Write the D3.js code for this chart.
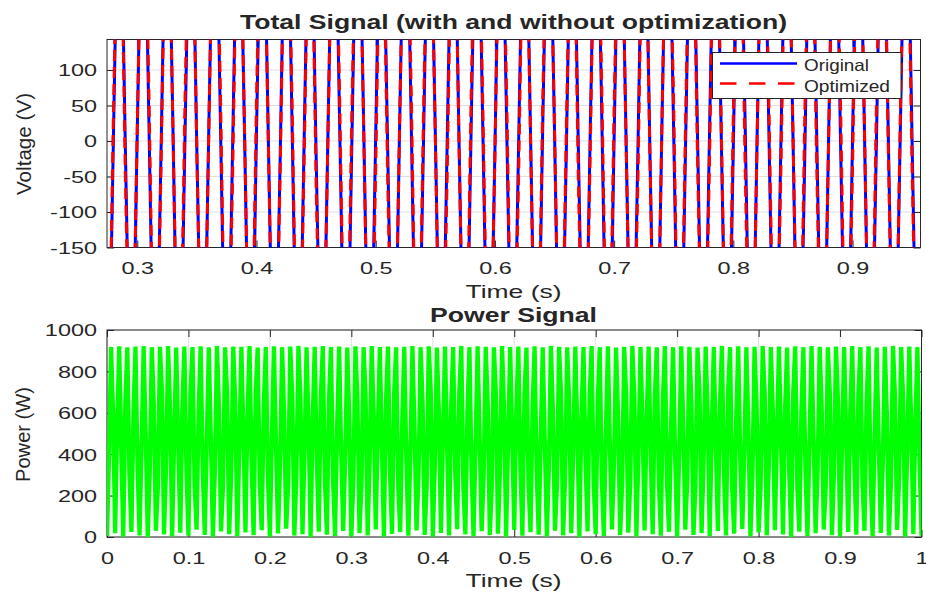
<!DOCTYPE html>
<html>
<head>
<meta charset="utf-8">
<script src="https://cdn.jsdelivr.net/npm/d3@7"></script>
<style>
	body { margin: 0; background: #ffffff; }
	svg { font-family: "Liberation Sans", Arial, sans-serif; }
</style>
</head>
<body>
<svg id="svg_main" width="926" height="592"></svg>
<script>
var sigStart = 0.275, sigStep = 0.005;
var original = [
	-468, 6, 472, -10, -455, 14, 480, 4,
	-471, -8, 462, 12, -479, 3, 470, -15,
	-460, 18, 476, 2, -466, -6, 458, 9,
	-474, 11, 469, -4, -463, -12, 481, 7,
	-470, 5, 466, -18, -458, 16, 474, 0,
	-477, -3, 471, 13, -465, 8, 460, -7,
	-472, 15, 478, 5, -468, -10, 467, 11,
	-461, 2, 473, -9, -475, 12, 464, 3,
	-466, -14, 479, 8, -459, 7, 470, -2,
	-473, 10, 463, 14, -470, -5, 475, -11,
	-464, 17, 468, 1, -478, 4, 472, 6,
	-462, -9, 480, -13, -469, 13, 461, 9,
	-476, 0, 474, 4, -467, 9, 469, -6,
	-460, -7, 465, 15, -472, 11, 477, -3,
	-468, 6, 462, 10, -474, -15, 476, 2,
	-465, 12, 471, -8, -470, 3, 466, 13,
	-473, -4, 478, 7, -462, 8, 470, -5,
	-469, 10
];
var optimized = [
	-462, 40, 478, -52, -448, 20, 472, 48,
	-480, -30, 470, 10, -470, 55, 462, -20,
	-455, 12, 484, 45, -472, -48, 466, 14,
	-468, 60, 461, -9, -470, -30, 474, 42,
	-478, -25, 472, -60, -450, 10, 481, 38,
	-470, 44, 463, 8, -472, -40, 468, -50,
	-466, 20, 470, 52, -475, 30, 460, 5,
	-468, -45, 480, -14, -467, 58, 470, 36,
	-460, -20, 472, 50, -466, -38, 477, -8,
	-480, 46, 456, 18, -462, 25, 468, -55,
	-470, -10, 475, 42, -471, 48, 464, 0,
	-455, -52, 473, -20, -476, 16, 469, 45,
	-469, 35, 480, -30, -460, -28, 462, 10,
	-467, 40, 470, -45, -478, 6, 470, 38,
	-461, -32, 468, 16, -467, 42, 469, -40,
	-472, 8, 463, 48, -463, -36, 473, 20,
	-466, 50, 471, -12, -469, 30, 463, -44,
	-462, 38
];

var powStart = 0, powStep = 0.0025;
var power = [
	5, 390, 918, 600, 18, 540, 921, 420, 2, 660, 916, 300, 24, 600, 920, 340,
	8, 450, 923, 500, 0, 310, 917, 640, 30, 240, 919, 700, 12, 330, 922, 610,
	3, 480, 915, 450, 21, 620, 920, 320, 6, 700, 918, 250, 35, 610, 921, 330,
	10, 470, 917, 480, 1, 320, 923, 630, 27, 250, 916, 690, 14, 300, 920, 650,
	4, 440, 919, 500, 22, 590, 922, 360, 9, 690, 915, 260, 33, 640, 918, 300,
	2, 500, 921, 440, 17, 350, 917, 590, 40, 260, 920, 680, 7, 280, 923, 670,
	13, 410, 916, 540, 0, 560, 919, 390, 26, 680, 922, 270, 11, 660, 918, 280,
	5, 530, 920, 410, 29, 380, 915, 560, 3, 270, 921, 670, 19, 250, 917, 690,
	8, 370, 923, 580, 36, 520, 918, 430, 1, 650, 920, 300, 15, 690, 916, 250,
	24, 560, 919, 380, 6, 410, 922, 530, 32, 290, 917, 650, 10, 240, 921, 700,
	2, 340, 915, 600, 20, 490, 920, 450, 7, 630, 918, 310, 38, 700, 923, 240,
	12, 600, 917, 330, 4, 440, 921, 490, 28, 300, 919, 640, 9, 250, 916, 690,
	16, 320, 922, 620, 1, 470, 918, 480, 34, 610, 920, 340, 6, 690, 915, 250,
	23, 630, 921, 310, 11, 480, 917, 460, 3, 330, 923, 610, 30, 250, 919, 690,
	8, 290, 916, 650, 18, 430, 920, 510, 0, 580, 918, 370, 27, 680, 922, 260,
	14, 650, 917, 280, 5, 510, 921, 420, 37, 360, 915, 580, 9, 260, 919, 680,
	21, 270, 923, 670, 2, 400, 918, 550, 31, 550, 920, 400, 13, 670, 916, 270,
	6, 670, 922, 260, 25, 540, 917, 390, 1, 390, 921, 550, 35, 280, 919, 660,
	10, 240, 915, 700, 19, 360, 920, 590, 4, 510, 918, 440, 29, 640, 923, 300,
	7, 700, 917, 240, 16, 570, 921, 370, 39, 420, 916, 520, 3, 300, 919, 640,
	22, 240, 922, 700, 8, 330, 918, 610, 33, 480, 920, 470, 12, 620, 915, 320,
	0, 700, 921, 240, 26, 610, 917, 320, 5, 460, 923, 480, 18, 320, 919, 620,
	36, 250, 916, 690, 9, 300, 920, 650, 2, 450, 918, 500, 24, 590, 922, 360,
	11, 690, 917, 260, 30, 640, 921, 290, 4, 500, 915, 440, 20, 350, 919, 590,
	7, 260, 923, 680, 34, 280, 918, 670, 1, 420, 920, 530, 15, 560, 917, 390,
	6
];

// axes limits and ticks
var voltDomain = [-150, 143];
var voltTicks = [-150, -100, -50, 0, 50, 100];
var timeDomainTop = [0.2746, 0.957];
var timeTicksTop = [0.3, 0.4, 0.5, 0.6, 0.7, 0.8, 0.9];
var powDomain = [0, 1000];
var powTicks = [0, 200, 400, 600, 800, 1000];
var timeDomainBottom = [0, 1];
var timeTicksBottom = [0, 0.1, 0.2, 0.3, 0.4, 0.5, 0.6, 0.7, 0.8, 0.9, 1];

var legendNames = ["Original", "Optimized"];

var ink = "#262626",
	gridColor = "#dfdfdf",
	tickFont = 16.5,
	labelFont = 18.6;

var svg = d3.select("#svg_main");

function stretch(sel, k) {
	sel.each(function() {
		var w = this.getComputedTextLength();
		d3.select(this).attr("textLength", w * k).attr("lengthAdjust", "spacingAndGlyphs");
	});
}

function panel(box, xDom, xTicks, yDom, yTicks, id) {
	var x = d3.scaleLinear().domain(xDom).range([box.left, box.right]),
		y = d3.scaleLinear().domain(yDom).range([box.bottom, box.top]);

	var g = svg.append("g").attr("class", "panel");

	// grid
	g.append("g").selectAll("line.gx")
		.data(xTicks)
		.enter().append("line")
		.attr("x1", d => x(d)).attr("x2", d => x(d))
		.attr("y1", box.top).attr("y2", box.bottom)
		.attr("stroke", gridColor).attr("stroke-width", 1);
	g.append("g").selectAll("line.gy")
		.data(yTicks)
		.enter().append("line")
		.attr("x1", box.left).attr("x2", box.right)
		.attr("y1", d => y(d)).attr("y2", d => y(d))
		.attr("stroke", gridColor).attr("stroke-width", 1);

	// axes with inward ticks on all four sides
	var xb = g.append("g")
		.attr("transform", `translate(0, ${box.bottom})`)
		.call(d3.axisBottom(x).tickValues(xTicks).tickFormat(d => String(d))
			.tickSizeInner(-7).tickSizeOuter(0).tickPadding(15.2));
	var xt = g.append("g")
		.attr("transform", `translate(0, ${box.top})`)
		.call(d3.axisTop(x).tickValues(xTicks).tickFormat("")
			.tickSizeInner(-7).tickSizeOuter(0));
	var yl = g.append("g")
		.attr("transform", `translate(${box.left}, 0)`)
		.call(d3.axisLeft(y).tickValues(yTicks).tickFormat(d => String(d))
			.tickSizeInner(-7).tickSizeOuter(0).tickPadding(10));
	var yr = g.append("g")
		.attr("transform", `translate(${box.right}, 0)`)
		.call(d3.axisRight(y).tickValues(yTicks).tickFormat("")
			.tickSizeInner(-7).tickSizeOuter(0));

	[xb, xt, yl, yr].forEach(a => {
		a.select(".domain").remove();
		a.selectAll(".tick line").attr("stroke", ink).attr("stroke-width", 1);
		a.selectAll(".tick text")
			.attr("fill", ink)
			.attr("font-size", tickFont + "px")
			.attr("font-family", "Liberation Sans, Arial, sans-serif");
	});
	xb.selectAll(".tick text").attr("dy", "0.71em");
	yl.selectAll(".tick text").attr("dy", "0.36em");
	stretch(xb.selectAll(".tick text"), 1.42);
	stretch(yl.selectAll(".tick text"), 1.42);

	g.append("rect")
		.attr("x", box.left).attr("y", box.top)
		.attr("width", box.right - box.left)
		.attr("height", box.bottom - box.top)
		.attr("fill", "none")
		.attr("stroke", ink)
		.attr("stroke-width", 1);

	svg.append("clipPath")
		.attr("id", id)
		.append("rect")
		.attr("x", box.left).attr("y", box.top)
		.attr("width", box.right - box.left)
		.attr("height", box.bottom - box.top);

	return { x: x, y: y };
}

// ---- top: total signal ----
var topBox = { left: 107, right: 920.5, top: 39.5, bottom: 247.5 };
var top_ = panel(topBox, timeDomainTop, timeTicksTop, voltDomain, voltTicks, "clipTop");

var sigLine = d3.line()
	.x((d, i) => top_.x(sigStart + i * sigStep))
	.y(d => top_.y(d));

var topData = svg.append("g").attr("clip-path", "url(#clipTop)");
topData.append("path")
	.datum(original)
	.attr("d", sigLine)
	.attr("fill", "none")
	.attr("stroke", "#0000ff")
	.attr("stroke-width", 3);
topData.append("path")
	.datum(optimized)
	.attr("d", sigLine)
	.attr("fill", "none")
	.attr("stroke", "#ff0000")
	.attr("stroke-width", 3)
	.attr("stroke-dasharray", "11,6");

// legend
var legend = svg.append("g").attr("class", "legend");
legend.append("rect")
	.attr("x", 712.5).attr("y", 52.5)
	.attr("width", 188.5).attr("height", 46)
	.attr("fill", "#ffffff")
	.attr("stroke", ink)
	.attr("stroke-width", 1);
legend.append("line")
	.attr("x1", 720).attr("x2", 797)
	.attr("y1", 63.5).attr("y2", 63.5)
	.attr("stroke", "#0000ff").attr("stroke-width", 2.5);
legend.append("line")
	.attr("x1", 720).attr("x2", 797)
	.attr("y1", 83.5).attr("y2", 83.5)
	.attr("stroke", "#ff0000").attr("stroke-width", 2.5)
	.attr("stroke-dasharray", "16.5,12.5");
legend.selectAll("text")
	.data(legendNames)
	.enter().append("text")
	.attr("x", 804)
	.attr("y", (d, i) => 70.7 + i * 21)
	.attr("font-size", "16.5px")
	.attr("fill", ink)
	.text(d => d)
	.attr("textLength", (d, i) => [65, 86][i])
	.attr("lengthAdjust", "spacingAndGlyphs");

// ---- bottom: power signal ----
var botBox = { left: 107, right: 921.5, top: 330, bottom: 537 };
var bot = panel(botBox, timeDomainBottom, timeTicksBottom, powDomain, powTicks, "clipBot");

var powLine = d3.line()
	.x((d, i) => bot.x(powStart + i * powStep))
	.y(d => bot.y(d));

svg.append("g").attr("clip-path", "url(#clipBot)")
	.append("path")
	.datum(power)
	.attr("d", powLine)
	.attr("fill", "none")
	.attr("stroke", "#00ff00")
	.attr("stroke-width", 4.3)
	.attr("stroke-linejoin", "bevel");

// titles and axis labels
var labels = svg.append("g").attr("class", "labels").attr("fill", ink);
labels.append("text")
	.attr("x", 513.5).attr("y", 29)
	.attr("text-anchor", "middle")
	.attr("font-weight", "bold")
	.attr("font-size", "19.5px")
	.attr("textLength", 547).attr("lengthAdjust", "spacingAndGlyphs")
	.text("Total Signal (with and without optimization)");
labels.append("text")
	.attr("x", 513.5).attr("y", 322)
	.attr("text-anchor", "middle")
	.attr("font-weight", "bold")
	.attr("font-size", "19.5px")
	.attr("textLength", 167).attr("lengthAdjust", "spacingAndGlyphs")
	.text("Power Signal");
labels.append("text")
	.attr("x", 513.5).attr("y", 298)
	.attr("text-anchor", "middle")
	.attr("font-size", labelFont + "px")
	.attr("textLength", 96).attr("lengthAdjust", "spacingAndGlyphs")
	.text("Time (s)");
labels.append("text")
	.attr("x", 513.5).attr("y", 587.3)
	.attr("text-anchor", "middle")
	.attr("font-size", labelFont + "px")
	.attr("textLength", 96).attr("lengthAdjust", "spacingAndGlyphs")
	.text("Time (s)");
labels.append("text")
	.attr("transform", "translate(31, 144) rotate(-90)")
	.attr("text-anchor", "middle")
	.attr("font-size", "20.5px")
	.attr("textLength", 102).attr("lengthAdjust", "spacingAndGlyphs")
	.text("Voltage (V)");
labels.append("text")
	.attr("transform", "translate(30, 434.5) rotate(-90)")
	.attr("text-anchor", "middle")
	.attr("font-size", "20.5px")
	.attr("textLength", 95).attr("lengthAdjust", "spacingAndGlyphs")
	.text("Power (W)");
</script>
</body>
</html>
